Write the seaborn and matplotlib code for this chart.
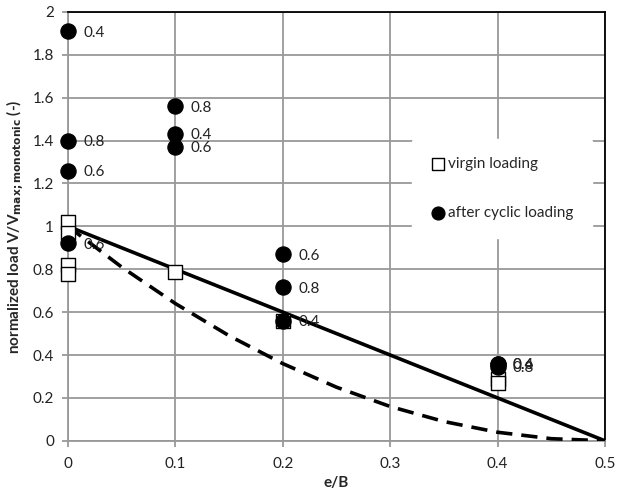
import pandas as pd
import matplotlib.pyplot as plt
import seaborn as sns

# virgin loading (open squares)
virgin_e = [0.0, 0.0, 0.0, 0.0, 0.1, 0.2, 0.4, 0.4]
virgin_v = [1.02, 0.97, 0.82, 0.78, 0.785, 0.56, 0.29, 0.27]

# after cyclic loading (filled circles) with their labels
cyclic_e = [0.0, 0.0, 0.0, 0.0, 0.1, 0.1, 0.1, 0.2, 0.2, 0.2, 0.4, 0.4, 0.4]
cyclic_v = [1.91, 1.40, 1.26, 0.92, 1.56, 1.43, 1.37, 0.87, 0.715, 0.56, 0.36, 0.36, 0.345]
cyclic_lab = ["0.4", "0.8", "0.6", "0.6", "0.8", "0.4", "0.6", "0.6", "0.8", "0.4", "0.6", "0.4", "0.8"]

# reference lines
lin_e = [0.0, 0.5]
lin_v = [1.0, 0.0]
dash_e = [0.0, 0.05, 0.1, 0.15, 0.2, 0.25, 0.3, 0.35, 0.4, 0.45, 0.5]
dash_v = [1.0, 0.81, 0.64, 0.49, 0.36, 0.25, 0.16, 0.09, 0.04, 0.01, 0.0]

sns.set_style("white")
plt.rcParams["font.family"] = ["Lato", "DejaVu Sans"]

fig = plt.figure(figsize=(6.18, 4.92), dpi=100)
ax = fig.add_axes([0.110, 0.104, 0.869, 0.872])

sns.lineplot(x=lin_e, y=lin_v, color="black", linewidth=2.6, ax=ax, zorder=3)
sns.lineplot(x=dash_e, y=dash_v, color="black", linewidth=2.6, ax=ax, zorder=3,
             linestyle=(0, (4.5, 2.5)))

sns.scatterplot(x=virgin_e, y=virgin_v, marker="s", s=95, color="white",
                edgecolor="black", linewidth=1.0, ax=ax, zorder=4,
                label="virgin loading", clip_on=False)
sns.scatterplot(x=cyclic_e, y=cyclic_v, marker="o", s=120, color="black",
                edgecolor="black", ax=ax, zorder=5,
                label="after cyclic loading", clip_on=False)

for xe, yv, lab in zip(cyclic_e, cyclic_v, cyclic_lab):
    ax.annotate(lab, (xe, yv), xytext=(11, -1), textcoords="offset points",
                va="center", ha="left", fontsize=11, color="#222222", zorder=6)

ax.set_xlim(0, 0.5)
ax.set_ylim(0, 2)
ax.set_xticks([0, 0.1, 0.2, 0.3, 0.4, 0.5])
ax.set_xticklabels(["0", "0.1", "0.2", "0.3", "0.4", "0.5"])
ax.set_yticks([0, 0.2, 0.4, 0.6, 0.8, 1, 1.2, 1.4, 1.6, 1.8, 2])
ax.set_yticklabels(["0", "0.2", "0.4", "0.6", "0.8", "1", "1.2", "1.4", "1.6", "1.8", "2"])
ax.grid(True, color="#999999", linewidth=1.3)
ax.set_axisbelow(True)
ax.tick_params(axis="both", labelsize=11, labelcolor="#222222", length=4,
               direction="out", width=1.3, color="#999999")
ax.tick_params(axis="x", pad=8)
ax.tick_params(axis="y", pad=6)
ax.xaxis.set_ticks_position("bottom")
ax.yaxis.set_ticks_position("left")

ax.spines["top"].set_color("black")
ax.spines["right"].set_color("black")
ax.spines["left"].set_color("#999999")
ax.spines["bottom"].set_color("#999999")
for sp in ax.spines.values():
    sp.set_linewidth(1.3)
    sp.set_visible(True)

ax.set_xlabel("e/B", fontsize=11, fontweight="bold", labelpad=3)
ax.set_ylabel(r"normalized load V/V$_{\mathbf{max;monotonic}}$ (-)", fontsize=11,
              fontweight="bold", labelpad=4)

leg = ax.legend(loc="center", bbox_to_anchor=(0.808, 0.588), frameon=True,
                fontsize=11, handlelength=1.0, handletextpad=0.2,
                labelspacing=2.3, borderpad=1.2, markerscale=0.85)
leg.get_frame().set_facecolor("white")
leg.get_frame().set_edgecolor("white")
leg.get_frame().set_alpha(1)
leg.set_zorder(7)

fig.savefig("out.png", dpi=100)
